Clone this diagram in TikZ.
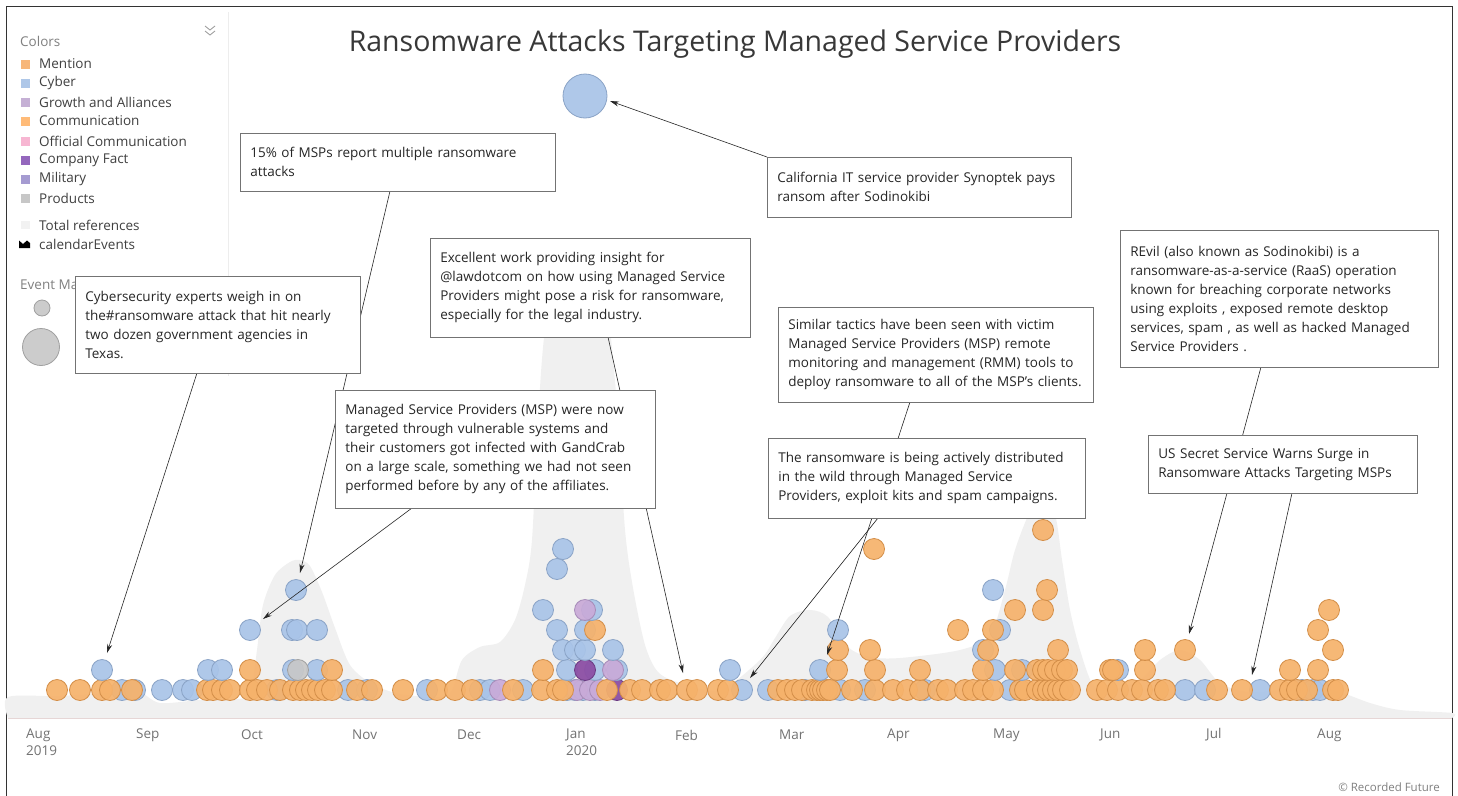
\documentclass[tikz,border=0pt]{standalone}
\usepackage{fontspec}
\setmainfont{Open Sans}
\usetikzlibrary{arrows.meta,calc}
\definecolor{orF}{HTML}{F6B26B}
\definecolor{orD}{HTML}{D38E48}
\definecolor{blF}{HTML}{A9C4E8}
\definecolor{blD}{HTML}{8AA3C6}
\definecolor{lpF}{HTML}{C9AAD8}
\definecolor{lpD}{HTML}{A68BB8}
\definecolor{dpF}{HTML}{8C4FA5}
\definecolor{dpD}{HTML}{6A3A82}
\definecolor{gyF}{HTML}{C8C8C8}
\definecolor{gyD}{HTML}{A0A0A0}
\definecolor{areaC}{HTML}{F0F0F0}
\definecolor{axisC}{HTML}{E6D6D6}
\definecolor{lgMention}{HTML}{F7B679}
\definecolor{lgCyber}{HTML}{AEC7E8}
\definecolor{lgGrowth}{HTML}{C5B0D5}
\definecolor{lgComm}{HTML}{FFBB78}
\definecolor{lgOff}{HTML}{F7B6D2}
\definecolor{lgFact}{HTML}{9467BD}
\definecolor{lgMil}{HTML}{A59BD1}
\definecolor{lgProd}{HTML}{C7C7C7}
\definecolor{lgTot}{HTML}{F2F2F2}
\begin{document}
\begin{tikzpicture}[x=1pt,y=-1pt,
  ob/.style={fill=orF,draw=orD,line width=0.8pt,fill opacity=0.92},
  bb/.style={fill=blF,draw=blD,line width=0.8pt,fill opacity=0.92},
  lp/.style={fill=lpF,draw=lpD,line width=0.8pt,fill opacity=0.92},
  dp/.style={fill=dpF,draw=dpD,line width=0.8pt,fill opacity=0.95},
  gb/.style={fill=gyF,draw=gyD,line width=0.8pt,fill opacity=0.92},
  callout/.style={draw=black!55,fill=white,line width=0.7pt,align=left,anchor=north west,
    inner xsep=10pt,inner ysep=4pt,font=\fontsize{13.5}{19}\selectfont,text=black!85},
  arr/.style={draw=black!85,line width=0.6pt,-{Stealth[length=9pt,width=5pt]}},
  lgtext/.style={anchor=west,font=\fontsize{13.5}{16}\selectfont,text=black!75,inner sep=0pt},
  month/.style={anchor=west,font=\fontsize{13.5}{16}\selectfont,text=black!55,inner sep=0pt}]
\useasboundingbox (0,0) rectangle (1458,795);
\fill[white] (0,0) rectangle (1458,795);
% frame
\draw[black!80,line width=0.9pt] (6,800) -- (6,6) -- (1452,6) -- (1452,800);

% total references area
\fill[areaC] plot[smooth,tension=0.5] coordinates {(8,718) (8,697) (60,696) (120,692) (140,692) (160,703) (200,700) (245,698) (252,685) (257,650) (263,605) (275,575) (290,562) (300,560) (310,566) (322,592) (335,628) (350,665) (372,684) (400,694) (440,697) (452,690) (462,660) (480,647) (500,642) (515,620) (525,585) (532,540) (538,420) (545,330) (560,265) (578,250) (598,265) (610,330) (618,420) (625,530) (633,588) (645,645) (658,672) (680,683) (720,690) (760,660) (775,638) (790,616) (810,610) (828,617) (848,647) (870,657) (900,658) (960,650) (990,635) (1005,590) (1015,550) (1030,512) (1042,505) (1055,515) (1062,560) (1070,610) (1080,650) (1093,685) (1110,690) (1140,680) (1160,660) (1180,650) (1200,660) (1220,683) (1250,692) (1300,688) (1333,690) (1370,703) (1400,710) (1452,713) (1452,718)} -- cycle;
\draw[axisC,line width=1pt] (8,718) -- (1452,718);

% ---------- bubbles, base row ----------
\foreach \x in {122,135,162,183,192,277,348,367,427,480,490,523,567,575,583,595,742,768,805,840,865,925,1010,1185,1205,1260,1302,1313,1320}
  \path[bb] (\x,690) circle (10.5pt);
\foreach \x in {500,577,590,600}
  \path[lp] (\x,690) circle (10.5pt);
\path[dp] (617,690) circle (10.5pt);
\foreach \x in {57,80,102,110,132,207,213,222,230,250,257,267,280,293,300,306,312,318,325,332,357,372,403,437,455,472,513,542,557,563,607,630,642,660,667,687,697,718,728,778,787,795,802,812,817,820,823,827,830,852,875,893,907,920,938,947,965,973,983,993,1020,1025,1037,1043,1048,1053,1058,1063,1070,1097,1107,1118,1132,1142,1158,1165,1217,1242,1280,1290,1297,1307,1333,1338}
  \path[ob] (\x,690) circle (10.5pt);
% row 670
\foreach \x in {102,208,222,293,317,567,595,617,730,820,995,1022,1118}
  \path[bb] (\x,670) circle (10.5pt);
\path[gb] (298,670) circle (10.5pt);
\path[dp] (585,670) circle (10.5pt);
\path[lp] (613,670) circle (10.5pt);
\foreach \x in {250,332,543,837,875,920,983,1015,1037,1043,1048,1055,1062,1067,1110,1113,1145,1290,1318}
  \path[ob] (\x,670) circle (10.5pt);
% row 650
\foreach \x in {563,575,585,613,983}
  \path[bb] (\x,650) circle (10.5pt);
\foreach \x in {838,870,988,1058,1145,1185,1333}
  \path[ob] (\x,650) circle (10.5pt);
% row 630
\foreach \x in {250,292,297,317,557,585,838,1000}
  \path[bb] (\x,630) circle (10.5pt);
\foreach \x in {595,958,993,1318}
  \path[ob] (\x,630) circle (10.5pt);
% row 610
\foreach \x in {543,592}
  \path[bb] (\x,610) circle (10.5pt);
\path[lp] (585,610) circle (10.5pt);
\foreach \x in {1015,1043,1329}
  \path[ob] (\x,610) circle (10.5pt);
% row 590
\foreach \x in {296,993}
  \path[bb] (\x,590) circle (10.5pt);
\path[ob] (1047,590) circle (10.5pt);
% upper
\path[bb] (557,569) circle (10.5pt);
\path[bb] (563,549) circle (10.5pt);
\path[ob] (874,549) circle (10.5pt);
\path[ob] (1043,530) circle (10.5pt);
% top big bubble
\path[bb] (585,96) circle (22pt);

% ---------- axis labels ----------
\node[month] (mAug) at (26,735) {Aug};
\node[month] (y2019) at (26,751) {2019};
\node[month] (mSep) at (136,735) {Sep};
\node[month] (mOct) at (241,735) {Oct};
\node[month] (mNov) at (352,735) {Nov};
\node[month] (mDec) at (457,735) {Dec};
\node[month] (mJan) at (566,735) {Jan};
\node[month] (y2020) at (566,751) {2020};
\node[month] (mFeb) at (675,735) {Feb};
\node[month] (mMar) at (779,735) {Mar};
\node[month] (mApr) at (887,735) {Apr};
\node[month] (mMay) at (993,735) {May};
\node[month] (mJun) at (1100,735) {Jun};
\node[month] (mJul) at (1206,735) {Jul};
\node[month] (mAug2) at (1317,735) {Aug};
\node[anchor=east,inner sep=0pt,font=\fontsize{11.5}{14}\selectfont,text=black!50] (copy) at (1440,787) {© Recorded Future};

% ---------- title ----------
\node[font=\fontsize{28.5}{32}\selectfont,text=black!78,inner sep=0pt] (title) at (735,44) {Ransomware Attacks Targeting Managed Service Providers};

% ---------- legend ----------
\fill[white] (10,12) rectangle (228,376);
\draw[black!7,line width=1pt] (228,12) -- (228,376);
\draw[black!40,line width=0.8pt] (205,26) -- (210,30) -- (215,26);
\draw[black!40,line width=0.8pt] (205,31) -- (210,35) -- (215,31);
\node[lgtext,text=black!50] (lgtitle) at (20,41) {Colors};
\foreach \c/\t/\yy in {lgMention/Mention/64,lgCyber/Cyber/83,lgGrowth/Growth and Alliances/102,lgComm/Communication/121,lgOff/Official Communication/141,lgFact/Company Fact/160,lgMil/Military/179,lgProd/Products/198}{
  \fill[\c] (21,\yy-4.5) rectangle (30,\yy+4.5);
  \node[lgtext] at (39,\yy) {\t};
}
\fill[lgTot] (21,221) rectangle (30,229);
\node[lgtext] (lgtot) at (39,225) {Total references};
\fill[black] (19,248) -- (19,240.5) -- (23,244) -- (27,240.5) -- (30,243) -- (30,248) -- cycle;
\node[lgtext] (lgcal) at (39,244) {calendarEvents};
\node[lgtext,text=black!50] (lgev) at (20,285) {Event Ma};
\path[gb] (42,308) circle (8pt);
\path[gb] (41,347) circle (18.5pt);

% ---------- arrow targets ----------
\coordinate (t15) at (300,573);
\coordinate (tcy) at (107,653);
\coordinate (texc) at (683,673);
\coordinate (tmsp) at (263,619);
\coordinate (tcal) at (610,101);
\coordinate (tsim) at (827,655);
\coordinate (tran) at (750,678);
\coordinate (trev) at (1189,634);
\coordinate (tus) at (1252,675);

% ---------- callout corners ----------
\path (240,133) coordinate (p15) (75,276) coordinate (pcy) (430,238) coordinate (pexc)
  (335,390) coordinate (pmsp) (767,157) coordinate (pcal) (778,307) coordinate (psim)
  (768,438) coordinate (pran) (1120,230) coordinate (prev) (1148,435) coordinate (pus);

% arrows (drawn beneath the boxes)
\draw[arr] ($(p15)+(150,58)$) coordinate (s15) -- (t15);
\draw[arr] ($(pcy)+(122,97)$) coordinate (scy) -- (tcy);
\draw[arr] ($(pexc)+(178,99)$) coordinate (sexc) -- (texc);
\draw[arr] ($(pmsp)+(77,118)$) coordinate (smsp) -- (tmsp);
\draw[arr] (pcal) -- (tcal);
\draw[arr] ($(psim)+(132,95)$) coordinate (ssim) -- (tsim);
\draw[arr] ($(pran)+(110,80)$) coordinate (sran) -- (tran);
\draw[arr] ($(prev)+(141,137)$) coordinate (srev) -- (trev);
\draw[arr] ($(pus)+(144,58)$) coordinate (sus) -- (tus);

\node[callout,text width=295pt,minimum height=58pt] (b15) at (p15) {15\% of MSPs report multiple ransomware\\attacks};
\node[callout,text width=265pt,minimum height=97pt] (bcy) at (pcy) {Cybersecurity experts weigh in on\\the\#ransomware attack that hit nearly\\two dozen government agencies in\\Texas.};
\node[callout,text width=300pt,minimum height=99pt] (bexc) at (pexc) {Excellent work providing insight for\\@lawdotcom on how using Managed Service\\Providers might pose a risk for ransomware,\\especially for the legal industry.};
\node[callout,text width=300pt,minimum height=118pt] (bmsp) at (pmsp) {Managed Service Providers (MSP) were now\\targeted through vulnerable systems and\\their customers got infected with GandCrab\\on a large scale, something we had not seen\\performed before by any of the affiliates.};
\node[callout,text width=284pt,minimum height=60pt] (bcal) at (pcal) {California IT service provider Synoptek pays\\ransom after Sodinokibi};
\node[callout,text width=295pt,minimum height=95pt] (bsim) at (psim) {Similar tactics have been seen with victim\\Managed Service Providers (MSP) remote\\monitoring and management (RMM) tools to\\deploy ransomware to all of the MSP's clients.};
\node[callout,text width=297pt,minimum height=80pt] (bran) at (pran) {The ransomware is being actively distributed\\in the wild through Managed Service\\Providers, exploit kits and spam campaigns.};
\node[callout,text width=298pt,minimum height=137pt] (brev) at (prev) {REvil (also known as Sodinokibi) is a\\ransomware-as-a-service (RaaS) operation\\known for breaching corporate networks\\using exploits , exposed remote desktop\\services, spam , as well as hacked Managed\\Service Providers .};
\node[callout,text width=249pt,minimum height=58pt] (bus) at (pus) {US Secret Service Warns Surge in\\Ransomware Attacks Targeting MSPs};
\end{tikzpicture}
\end{document}
